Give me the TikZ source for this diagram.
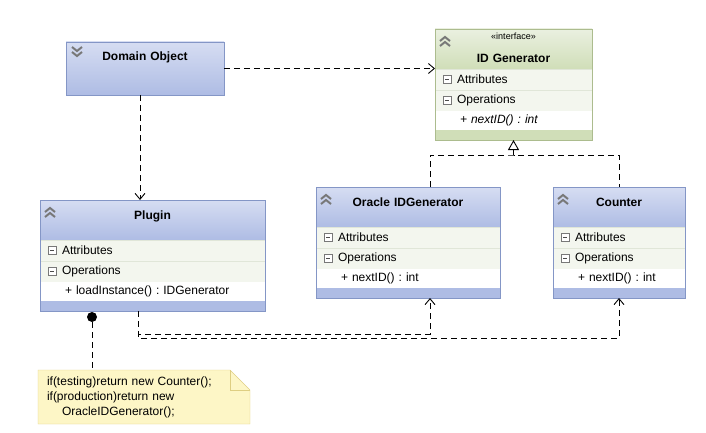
\documentclass[tikz,border=0pt]{standalone}
\usepackage{fontspec}
\setmainfont{Liberation Sans}
\frenchspacing
\usetikzlibrary{calc,positioning,arrows.meta,backgrounds}

\definecolor{clsline}{RGB}{132,150,198}
\definecolor{headtop}{RGB}{214,221,242}
\definecolor{headbot}{RGB}{174,188,228}
\definecolor{ifline}{RGB}{172,188,142}
\definecolor{iheadtop}{RGB}{234,240,224}
\definecolor{iheadbot}{RGB}{208,222,184}
\definecolor{rowfill}{RGB}{243,246,238}
\definecolor{rowline}{RGB}{224,230,216}
\definecolor{chevgray}{RGB}{120,120,120}
\definecolor{notefill}{RGB}{253,246,198}
\definecolor{noteline}{RGB}{222,206,130}

\tikzset{
    every node/.style={font=\fontsize{12}{14}\selectfont, outer sep=0pt},
    head/.style={rectangle, draw=clsline, top color=headtop, bottom color=headbot, inner xsep=0pt, inner ysep=7pt, text height=12pt, text depth=14pt, align=center, font=\fontsize{12}{14}\selectfont\bfseries},
    ihead/.style={head, draw=ifline, top color=iheadtop, bottom color=iheadbot},
    row/.style={rectangle, fill=rowfill, draw=rowline, inner sep=0pt, minimum height=21pt, align=left},
    methrow/.style={row, fill=white, draw=white, minimum height=19pt},
    foot/.style={rectangle, fill=headbot, inner sep=0pt, minimum height=10pt},
    ifoot/.style={foot, fill=iheadbot},
    minus/.style={rectangle, draw=chevgray, fill=white, minimum size=8pt, inner sep=0pt,
        path picture={\draw[black!70, line width=1pt] ([xshift=2pt]path picture bounding box.west) -- ([xshift=-2pt]path picture bounding box.east);}},
    chev/.style={draw=chevgray, line width=2pt},
    line/.style={line width=0.9pt, dash pattern=on 6pt off 4pt},
    dep/.style={line, -{Straight Barb[length=6pt,width=10pt]}},
    real/.style={line, -{Triangle[open,length=10pt,width=11pt,fill=white]}},
    dot/.style={circle, fill=black, minimum size=10pt, inner sep=0pt},
    note/.style={rectangle, inner xsep=9pt, inner ysep=0pt, text width=194pt, minimum height=54pt, align=left, font=\fontsize{12}{15}\selectfont},
}

\begin{document}
\begin{tikzpicture}[x=1pt, y=-1pt, node distance=0pt]
    \useasboundingbox (0,0) rectangle (706,433);

    % Domain object (collapsed)
    \node[head, text width=158pt, text depth=27pt, anchor=north west] (dom) at (66,42) {Domain Object};
    \draw[chev] ($(dom.north west)+(6,5)$) -- ++(5,4) -- ++(5,-4) ++(-10,5) -- ++(5,4) -- ++(5,-4);

    % Interface
    \node[ihead, text width=157pt, inner ysep=0pt, text height=11pt, text depth=29pt, anchor=north west] (idgen) at (435,29)
        {{\fontsize{9}{10}\selectfont\mdseries «interface»}\\[8.5pt]ID Generator};
    \node[row, text width=157pt, below=of idgen] (idattr) {\hspace*{22pt}Attributes};
    \node[row, text width=157pt, below=of idattr] (idops) {\hspace*{22pt}Operations};
    \node[methrow, text width=157pt, below=of idops] (idmeth) {\hspace*{25pt}\textit{+ nextID() : int}};
    \node[ifoot, minimum width=157pt, below=of idmeth] (idfoot) {};
    \draw[ifline] (idgen.north west) rectangle (idfoot.south east);
    \draw[chev] ($(idgen.north west)+(5,12)$) -- ++(5,-4) -- ++(5,4) ++(-10,5) -- ++(5,-4) -- ++(5,4);
    \node[minus] (ma1) at ($(idattr.west)+(12,0)$) {};
    \node[minus] (mo1) at ($(idops.west)+(12,0)$) {};

    % Plugin
    \node[head, text width=225pt, anchor=north west] (plugin) at (40,200) {Plugin\hspace*{24pt}};
    \node[row, text width=225pt, below=of plugin] (plugattr) {\hspace*{22pt}Attributes};
    \node[row, text width=225pt, below=of plugattr] (plugops) {\hspace*{22pt}Operations};
    \node[methrow, text width=225pt, below=of plugops] (plugmeth) {\hspace*{25pt}+ loadInstance() : IDGenerator};
    \node[foot, minimum width=225pt, below=of plugmeth] (plugfoot) {};
    \draw[clsline] (plugin.north west) rectangle (plugfoot.south east);
    \draw[chev] ($(plugin.north west)+(5,12)$) -- ++(5,-4) -- ++(5,4) ++(-10,5) -- ++(5,-4) -- ++(5,4);
    \node[minus] (ma2) at ($(plugattr.west)+(12,0)$) {};
    \node[minus] (mo2) at ($(plugops.west)+(12,0)$) {};

    % Oracle IDGenerator
    \node[head, text width=184pt, anchor=north west] (oracle) at (316,187) {Oracle IDGenerator};
    \node[row, text width=184pt, below=of oracle] (oraattr) {\hspace*{22pt}Attributes};
    \node[row, text width=184pt, below=of oraattr] (oraops) {\hspace*{22pt}Operations};
    \node[methrow, text width=184pt, below=of oraops] (orameth) {\hspace*{25pt}+ nextID() : int};
    \node[foot, minimum width=184pt, below=of orameth] (orafoot) {};
    \draw[clsline] (oracle.north west) rectangle (orafoot.south east);
    \draw[chev] ($(oracle.north west)+(5,12)$) -- ++(5,-4) -- ++(5,4) ++(-10,5) -- ++(5,-4) -- ++(5,4);
    \node[minus] (ma3) at ($(oraattr.west)+(12,0)$) {};
    \node[minus] (mo3) at ($(oraops.west)+(12,0)$) {};

    % Counter
    \node[head, text width=132pt, anchor=north west] (counter) at (553,187) {Counter};
    \node[row, text width=132pt, below=of counter] (cntattr) {\hspace*{22pt}Attributes};
    \node[row, text width=132pt, below=of cntattr] (cntops) {\hspace*{22pt}Operations};
    \node[methrow, text width=132pt, below=of cntops] (cntmeth) {\hspace*{25pt}+ nextID() : int};
    \node[foot, minimum width=132pt, below=of cntmeth] (cntfoot) {};
    \draw[clsline] (counter.north west) rectangle (cntfoot.south east);
    \draw[chev] ($(counter.north west)+(5,12)$) -- ++(5,-4) -- ++(5,4) ++(-10,5) -- ++(5,-4) -- ++(5,4);
    \node[minus] (ma4) at ($(cntattr.west)+(12,0)$) {};
    \node[minus] (mo4) at ($(cntops.west)+(12,0)$) {};

    % Note
    \node[note, anchor=north west] (note) at (38,370)
        {if(testing)return new Counter();\\if(production)return new\\\hspace*{15pt}OracleIDGenerator();};
    \begin{scope}[on background layer]
        \filldraw[fill=notefill, draw=noteline] (note.north west) -- ($(note.north east)+(-20,0)$) -- ($(note.north east)+(0,20)$)
            -- (note.south east) -- (note.south west) -- cycle;
    \end{scope}
    \draw[noteline] ($(note.north east)+(-20,0)$) |- ($(note.north east)+(0,20)$);
    \node[dot] (pin) at ($(plugfoot.south west)+(52,6)$) {};
    \draw[line] (pin) -- (pin |- note.north);

    % Dependencies
    \draw[dep] (dom.east) -- (dom.east -| idgen.west);
    \draw[dep] ($(dom.south)+(-5,0)$) coordinate (d1) -- (d1 |- plugin.north);
    \coordinate (p1) at ($(plugfoot.south)+(-14.5,0)$);
    \draw[dep] (p1) -- ++(0,23) -| ($(orafoot.south)+(22,0)$);
    \draw[dep] (p1) -- ++(0,27) -| (cntfoot.south);

    % Realization
    \coordinate (join) at ($(idfoot.south)+(0,15)$);
    \draw[line] ($(oracle.north)+(22,0)$) |- (join) -| (counter.north);
    \draw[real] (join) -- (idfoot.south);
\end{tikzpicture}
\end{document}
